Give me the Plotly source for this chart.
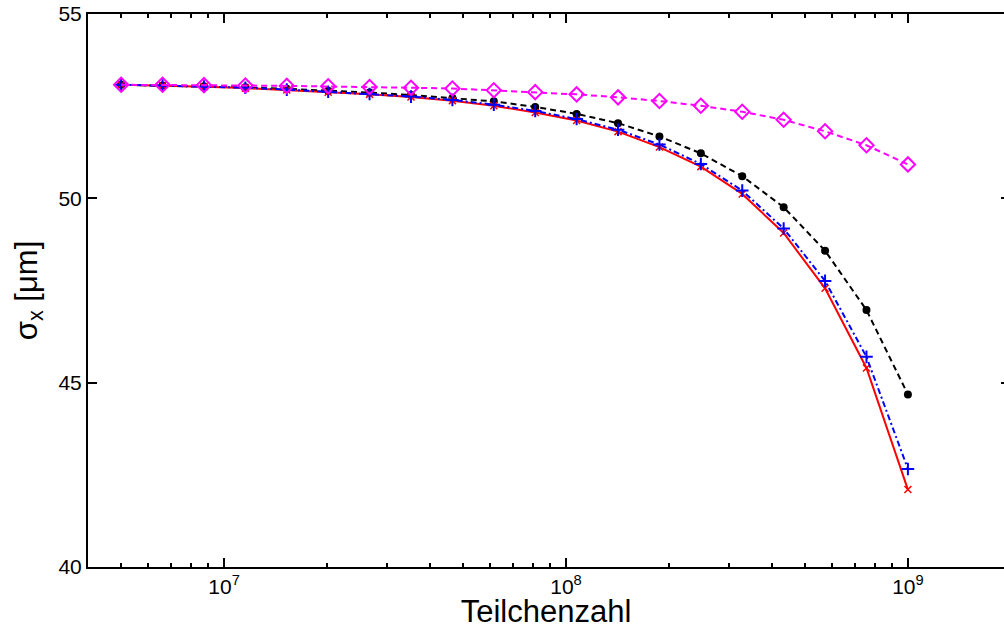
import plotly.graph_objects as go
import math

# ---- data ----
teilchenzahl = [5.0e6, 6.608e6, 8.733e6, 1.1542e7, 1.5254e7, 2.016e7, 2.664e7,
                3.521e7, 4.654e7, 6.150e7, 8.128e7, 1.0742e8, 1.4197e8, 1.8763e8,
                2.4797e8, 3.277e8, 4.331e8, 5.724e8, 7.565e8, 1.0e9]

sigma_black = [53.08, 53.06, 53.04, 53.01, 52.97, 52.92, 52.87, 52.80, 52.72, 52.63,
               52.48, 52.29, 52.04, 51.68, 51.22, 50.60, 49.76, 48.58, 46.97, 44.68]
sigma_blue = [53.08, 53.06, 53.03, 53.00, 52.95, 52.89, 52.83, 52.76, 52.67, 52.54,
              52.37, 52.15, 51.86, 51.46, 50.93, 50.21, 49.18, 47.76, 45.70, 42.66]
sigma_red = [53.08, 53.06, 53.03, 52.99, 52.94, 52.88, 52.82, 52.75, 52.65, 52.51,
             52.33, 52.11, 51.81, 51.39, 50.86, 50.12, 49.06, 47.56, 45.40, 42.10]
sigma_magenta = [53.08, 53.08, 53.07, 53.06, 53.05, 53.04, 53.02, 53.00, 52.98, 52.93,
                 52.88, 52.82, 52.74, 52.64, 52.51, 52.35, 52.13, 51.82, 51.44, 50.92]

x_major_ticks = [1e7, 1e8, 1e9]
x_major_text = ["10<sup>7</sup>", "10<sup>8</sup>", "10<sup>9</sup>"]
x_minor_ticks = [4e6, 5e6, 6e6, 7e6, 8e6, 9e6,
                 2e7, 3e7, 4e7, 5e7, 6e7, 7e7, 8e7, 9e7,
                 2e8, 3e8, 4e8, 5e8, 6e8, 7e8, 8e8, 9e8]
y_ticks = [40, 45, 50, 55]

x_range = [4.0e6, 1.91e9]
y_range = [40, 55]

FONT = "Liberation Sans, Arial, Helvetica, sans-serif"

fig = go.Figure()

fig.add_trace(go.Scatter(
    x=teilchenzahl, y=sigma_black, mode="lines+markers",
    line=dict(color="black", width=2, dash="6px,4px"),
    marker=dict(symbol="circle", size=8, color="black"),
    showlegend=False))

fig.add_trace(go.Scatter(
    x=teilchenzahl, y=sigma_red, mode="lines+markers",
    line=dict(color="red", width=2),
    marker=dict(symbol="x-thin", size=7, line=dict(color="red", width=1.5)),
    showlegend=False))

fig.add_trace(go.Scatter(
    x=teilchenzahl, y=sigma_blue, mode="lines+markers",
    line=dict(color="blue", width=2, dash="6px,3px,2px,3px"),
    marker=dict(symbol="cross-thin", size=9, line=dict(color="blue", width=2)),
    showlegend=False))

fig.add_trace(go.Scatter(
    x=teilchenzahl, y=sigma_magenta, mode="lines+markers",
    line=dict(color="magenta", width=2, dash="6px,4px"),
    marker=dict(symbol="diamond-open", size=11, line=dict(color="magenta", width=2)),
    showlegend=False))

# invisible trace to carry the right-hand tick axis
fig.add_trace(go.Scatter(
    x=teilchenzahl, y=sigma_black, mode="lines", yaxis="y2",
    line=dict(color="rgba(0,0,0,0)", width=0), hoverinfo="skip",
    showlegend=False))

fig.update_layout(
    width=1004, height=629,
    margin=dict(l=88, r=0, t=14, b=62),
    paper_bgcolor="white", plot_bgcolor="white",
    font=dict(family=FONT, color="black", size=21),
    xaxis=dict(
        type="log",
        range=[math.log10(x_range[0]), math.log10(x_range[1])],
        tickmode="array", tickvals=x_major_ticks, ticktext=x_major_text,
        ticks="inside", ticklen=9, tickwidth=1.5, tickcolor="black",
        minor=dict(tickmode="array", tickvals=x_minor_ticks, ticks="inside",
                   ticklen=4, tickwidth=1.5, tickcolor="black", showgrid=False),
        showline=True, linecolor="black", linewidth=2, mirror="ticks",
        showgrid=False, zeroline=False,
        tickfont=dict(size=21),
        title=dict(text="Teilchenzahl", font=dict(size=31), standoff=4),
    ),
    yaxis=dict(
        range=y_range, tickmode="array", tickvals=y_ticks,
        ticks="inside", ticklen=9, tickwidth=1.5, tickcolor="black",
        showline=True, linecolor="black", linewidth=2, mirror=False,
        showgrid=False, zeroline=False,
        tickfont=dict(size=21),
        title=dict(text="σ<sub>x</sub> [μm]", font=dict(size=31), standoff=12),
    ),
    yaxis2=dict(
        range=y_range, tickmode="array", tickvals=y_ticks,
        overlaying="y", side="right",
        ticks="inside", ticklen=3, tickwidth=1.5, tickcolor="black",
        showticklabels=False, showline=False, showgrid=False, zeroline=False,
    ),
)

fig.write_html(
    "out.html",
    config={"displayModeBar": False},
    post_script="document.body.style.margin='0';document.body.style.overflow='hidden';",
)
